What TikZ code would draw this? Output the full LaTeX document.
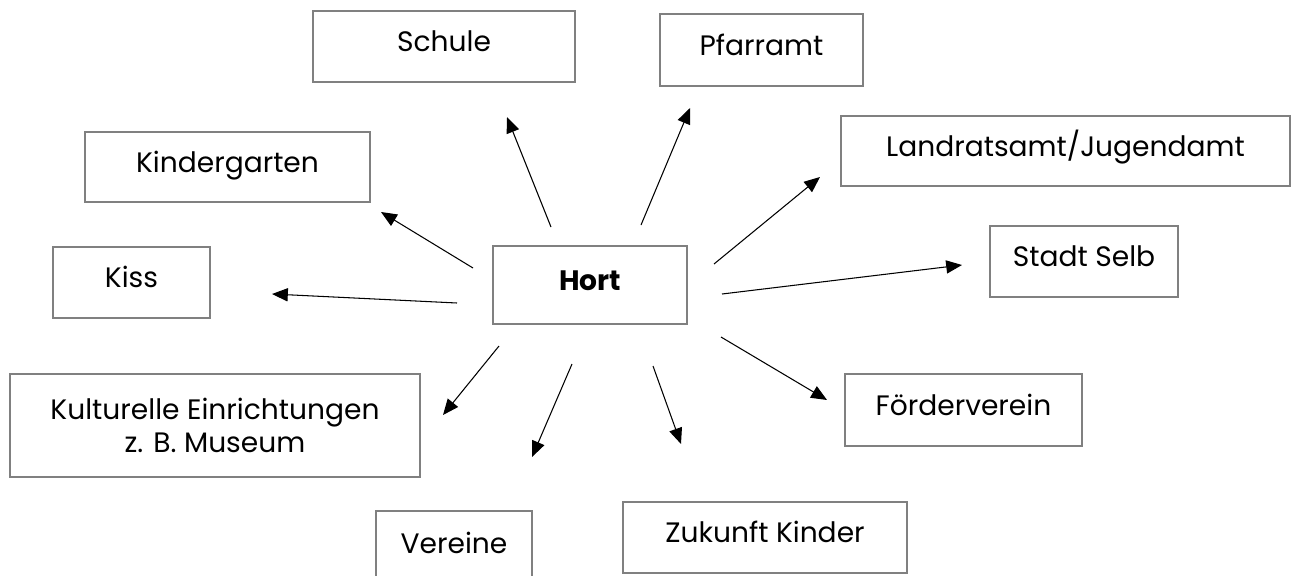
\documentclass[tikz,border=0pt]{standalone}
\usepackage{fontspec}
\setmainfont{Poppins}
\usetikzlibrary{arrows.meta}

\definecolor{boxgray}{RGB}{128,128,128}

\tikzset{
    partner/.style={draw=boxgray, line width=0.9pt, inner sep=0pt,
        text height=11.5pt, text depth=5.5pt, align=center,
        font=\fontsize{16}{19}\selectfont},
    link/.style={line width=0.6pt, -{Triangle[length=9pt,width=7.5pt]}}
}

\begin{document}
\begin{tikzpicture}[x=0.02cm, y=-0.02cm]

    % Fix the page to the size of the original sheet
    \useasboundingbox (0,0) rectangle (1294,575);
    \clip (0,0) rectangle (1294,575);

    % The Hort in the middle
    \node[partner, minimum width=3.88cm, minimum height=1.56cm] (hort) at (590,285) {\textbf{Hort}};

    % The partner boxes around it
    \node[partner, minimum width=5.24cm, minimum height=1.42cm] (schule) at (444,46.5) {Schule};
    \node[partner, minimum width=4.06cm, minimum height=1.44cm] (pfarramt) at (761.5,50) {Pfarramt};
    \node[partner, minimum width=5.70cm, minimum height=1.40cm] (kiga) at (227.5,167) {Kindergarten};
    \node[partner, minimum width=8.98cm, minimum height=1.40cm] (landrat) at (1065.5,151) {Landratsamt/Jugendamt};
    \node[partner, minimum width=3.14cm, minimum height=1.42cm] (kiss) at (131.5,282.5) {Kiss};
    \node[partner, minimum width=3.76cm, minimum height=1.42cm] (stadt) at (1084,261.5) {Stadt Selb};
    \node[partner, minimum width=8.20cm, minimum height=2.06cm, text height=, text depth=] (kultur) at (215,425.5) {Kulturelle Einrichtungen\\z. B. Museum};
    \node[partner, minimum width=4.74cm, minimum height=1.44cm] (foerder) at (963.5,410) {Förderverein};
    \node[partner, minimum width=3.12cm, minimum height=1.48cm] (vereine) at (454,548) {Vereine};
    \node[partner, minimum width=5.68cm, minimum height=1.42cm] (zukunft) at (765,537.5) {Zukunft Kinder};

    % Start points of the arrows (a little away from the Hort box)
    \coordinate (S1) at (551,227);
    \coordinate (S2) at (641,225);
    \coordinate (S3) at (473,268);
    \coordinate (S4) at (714,264);
    \coordinate (S5) at (457,303);
    \coordinate (S6) at (722,294);
    \coordinate (S7) at (499,346);
    \coordinate (S8) at (572,364);
    \coordinate (S9) at (653,366);
    \coordinate (S10) at (721,337);

    % End points of the arrows (they stop short of the boxes)
    \coordinate (E1) at (507,117);
    \coordinate (E2) at (690,108);
    \coordinate (E3) at (381,212);
    \coordinate (E4) at (820,177);
    \coordinate (E5) at (272,294);
    \coordinate (E6) at (962,265);
    \coordinate (E7) at (443,415);
    \coordinate (E8) at (532,457);
    \coordinate (E9) at (681,444);
    \coordinate (E10) at (827,400);

    % Draw the arrows from the Hort to its partners
    \draw[link] (S1) -- (E1);
    \draw[link] (S2) -- (E2);
    \draw[link] (S3) -- (E3);
    \draw[link] (S4) -- (E4);
    \draw[link] (S5) -- (E5);
    \draw[link] (S6) -- (E6);
    \draw[link] (S7) -- (E7);
    \draw[link] (S8) -- (E8);
    \draw[link] (S9) -- (E9);
    \draw[link] (S10) -- (E10);

\end{tikzpicture}
\end{document}
